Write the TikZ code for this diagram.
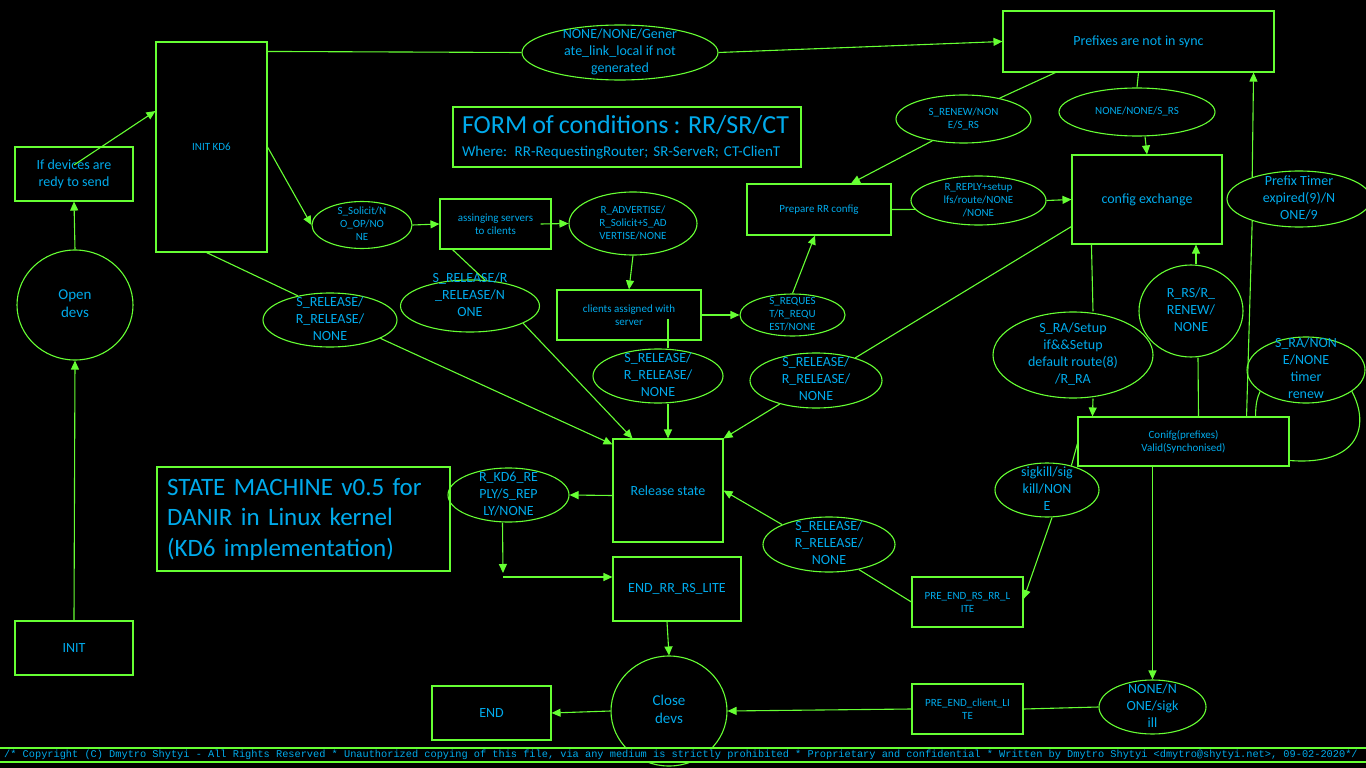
\documentclass[tikz,border=0pt]{standalone}
\usepackage{fontspec}
\setmainfont{Carlito}
\newfontfamily\barfont{Liberation Mono}
\usetikzlibrary{arrows.meta,shapes.geometric}

\definecolor{kdgreen}{RGB}{102,255,51}
\definecolor{kdblue}{RGB}{0,170,235}

% text of a condition, kept out of the ellipse size
\newcommand{\elltext}[2][0pt]{\smash{\makebox[0pt]{\raisebox{\dimexpr #1-0.25em\relax}{\begin{tabular}{@{}c@{}}#2\end{tabular}}}}}

\begin{document}
\begin{tikzpicture}[
  x=1pt, y=-1pt,
  >={Triangle[length=9pt,width=8pt]},
  st/.style={rectangle, draw=kdgreen, line width=1.1pt, text=kdblue,
    align=center, inner sep=2pt},
  cond/.style={ellipse, draw=kdgreen, line width=1.1pt, text=kdblue,
    inner sep=0pt},
  wh/.style 2 args={minimum width=#1pt, minimum height=#2pt},
  fa/.style={font=\fontsize{11}{13}\selectfont},
  fb/.style={font=\fontsize{14}{17}\selectfont},
  fc/.style={font=\fontsize{15}{18}\selectfont},
  tr/.style={draw=kdgreen, line width=1.1pt},
  tra/.style={->, draw=kdgreen, line width=1.1pt}
]
  \useasboundingbox[fill=black] (0,0) rectangle (1366,768);

  % states
  \node[st, fb, wh={118}{54}] (init) at (74,648) {INIT};
  \node[cond, fc, wh={116}{110}] (opendevs) at (75,305) {\elltext{Open\\devs}};
  \node[st, fb, wh={118}{54}] (ifdev) at (74,174) {If devices are\\redy to send};
  \node[st, fa, wh={111}{210}] (initkd6) at (211.5,147) {INIT KD6};
  \node[st, fa, wh={111}{50}] (assign) at (495.5,224) {assinging servers\\to cilents};
  \node[st, fa, wh={144}{50}] (clients) at (629,315) {clients assigned with\\server};
  \node[st, fa, wh={144}{51}] (prep) at (819,209.5) {Prepare RR config};
  \node[st, fb, wh={271}{61}] (prefixes) at (1138.5,41.5) {Prefixes are not in sync};
  \node[st, fb, wh={150}{89}] (cfgx) at (1147,199.5) {config exchange};
  \node[st, fa, wh={211}{49}] (conifg) at (1183.5,441.5) {Conifg(prefixes)\\Valid(Synchonised)};
  \node[st, fa, wh={111}{50}] (preendrs) at (967.5,602) {PRE\_END\_RS\_RR\_L\\ITE};
  \node[st, fa, wh={111}{50}] (preendcl) at (967.5,709) {PRE\_END\_client\_LI\\TE};
  \node[cond, fc, wh={116}{110}] (closedevs) at (669,711) {\elltext{Close\\devs}};
  \node[st, fb, wh={119}{54}] (endn) at (491.5,713) {END};
  \node[st, fb, wh={128}{64}] (endlite) at (677,589) {END\_RR\_RS\_LITE};
  \node[st, fb, wh={110}{103}] (release) at (668,490.5) {Release state};

  % conditions
  \node[cond, fa, wh={100}{47}] (solicit) at (362,225) {\elltext{S\_Solicit/N\\O\_OP/NO\\NE}};
  \node[cond, fa, wh={128}{63}] (radv) at (633,223.5) {\elltext{R\_ADVERTISE/\\R\_Solicit+S\_AD\\VERTISE/NONE}};
  \node[cond, fa, wh={105}{42}] (sreq) at (792.5,315) {\elltext{S\_REQUES\\T/R\_REQU\\EST/NONE}};
  \node[cond, fa, wh={135}{48}] (renew) at (963.5,119) {\elltext{S\_RENEW/NON\\E/S\_RS}};
  \node[cond, fa, wh={156}{48}] (nnsrs) at (1137,112) {\elltext{NONE/NONE/S\_RS}};
  \node[cond, fa, wh={135}{49}] (reply) at (978.5,200.5) {\elltext{R\_REPLY+setup\\lfs/route/NONE\\/NONE}};
  \node[cond, fb, wh={144}{56}] (timer) at (1299,199) {\elltext{Prefix Timer\\expired(9)/N\\ONE/9}};
  \node[cond, fb, wh={104}{92}] (rrs) at (1191,311) {\elltext{R\_RS/R\_\\RENEW/\\NONE}};
  \node[cond, fb, wh={160}{86}] (sra) at (1073,355) {\elltext{S\_RA/Setup\\if\&\&Setup\\default route(8)\\/R\_RA}};
  \node[cond, fb, wh={118}{66}] (sratimer) at (1306,370) {\elltext{S\_RA/NON\\E/NONE\\timer\\renew}};
  \node[cond, fb, wh={104}{54}] (sigkill) at (1047,490) {\elltext{sigkill/sig\\kill/NON\\E}};
  \node[cond, fb, wh={107}{54}] (nnsig) at (1152.5,707) {\elltext{NONE/N\\ONE/sigk\\ill}};
  \node[cond, fb, wh={121}{54}] (kd6reply) at (508.5,495) {\elltext{R\_KD6\_RE\\PLY/S\_REP\\LY/NONE}};
  \node[cond, fb, wh={134}{54}] (rela) at (330,320) {\elltext{S\_RELEASE/\\R\_RELEASE/\\NONE}};
  \node[cond, fb, wh={139}{52}] (relb) at (470,306) {\elltext[10pt]{S\_RELEASE/R\\\_RELEASE/N\\ONE}};
  \node[cond, fb, wh={130}{54}] (relc) at (658,376) {\elltext{S\_RELEASE/\\R\_RELEASE/\\NONE}};
  \node[cond, fb, wh={132}{55}] (reld) at (816,380.5) {\elltext{S\_RELEASE/\\R\_RELEASE/\\NONE}};
  \node[cond, fb, wh={132}{55}] (rele) at (829,544.5) {\elltext{S\_RELEASE/\\R\_RELEASE/\\NONE}};
  \node[cond, fb, wh={196}{55}] (genll) at (620,52.5) {\elltext{NONE/NONE/Gener\\ate\_link\_local if not\\generated}};

  % notes
  \node[st, text width=330pt, inner xsep=9pt, minimum height=60pt, align=left,
    font=\fontsize{15}{23}\selectfont] (form) at (627,137)
    {{\fontsize{26}{28}\selectfont FORM of conditions : RR/SR/CT}\\
     Where: RR-RequestingRouter; SR-ServeR; CT-ClienT};
  \node[st, text width=273pt, inner xsep=10pt, minimum height=104pt, align=left,
    font=\fontsize{25}{30.5}\selectfont] (title) at (303.5,519)
    {STATE MACHINE v0.5 for\\DANIR in Linux kernel\\(KD6 implementation)};

  % start up
  \draw[tra] (init.north) -- (opendevs.south);
  \draw[tra] (opendevs.north) -- (ifdev.south);
  \draw[tra] ([yshift=9pt]ifdev.center) -- ([yshift=36pt]initkd6.west);
  \draw[tra] (initkd6.east) -- (solicit.west);
  \draw[tra] (solicit.east) -- (assign.west);
  \draw[tra] ([xshift=-11pt]assign.east) -- (radv.west);
  \draw[tra] (radv.south) -- (clients.north);
  \draw[tra] (clients.east) -- (sreq.west);
  \draw[tra] (sreq.north) -- ([xshift=-4pt]prep.south);
  \draw[tr] (prep.east) -- (reply.188);
  \draw[tra] (reply.east) -- (cfgx.west);
  \draw[tr] ([yshift=-10pt]initkd6.north east) -- (genll.west);
  \draw[tra] (genll.east) -- (prefixes.west);

  % prefixes
  \draw[tr] ([xshift=53pt]prefixes.south west) -- (renew.30);
  \draw[tra] (renew.215) -- ([xshift=32pt]prep.north);
  \draw[tr] (prefixes.south) -- (nnsrs.north);
  \draw[tra] ([xshift=8pt]nnsrs.south) -- (cfgx.north);
  \draw[tr] ([xshift=20pt]cfgx.south west) -- ([xshift=20pt]sra.north);
  \draw[tra] ([xshift=20pt]sra.south) -- ([xshift=15pt]conifg.north west);
  \draw[tr] ([xshift=15pt]conifg.north) -- ([xshift=7pt]rrs.south);
  \draw[tra] ([xshift=5pt]rrs.north) -- ([xshift=49pt]cfgx.south);
  \draw[tr] ([xshift=-43pt]conifg.north east) -- (timer.205);
  \draw[tra] (timer.155) -- ([xshift=-21pt]prefixes.south east);
  \draw[tr] ([xshift=-34pt]conifg.north east) .. controls +(0,-12) and +(-3,6) .. (sratimer.205);
  \draw[tr] (sratimer.335) .. controls (1370,425) and (1360,466) .. ([yshift=-19pt]conifg.east);

  % release
  \draw[tr] ([yshift=-27pt]cfgx.west) -- (reld.30);
  \draw[tra] (reld.213) -- (release.north east);
  \draw[tr] ([xshift=-5pt]initkd6.south) -- (rela.143);
  \draw[tra] (rela.340) -- ([yshift=-6pt]release.north west);
  \draw[tr] ([xshift=13pt]assign.south west) -- (relb.60);
  \draw[tra] (relb.342) -- ([xshift=20pt]release.north west);
  \draw[tr] ([xshift=39pt,yshift=-4pt]clients.center) -- ([xshift=10pt]relc.north);
  \draw[tra] ([xshift=10pt]relc.south) -- (release.north);
  \draw[tr] (preendrs.west) -- (rele.320);
  \draw[tra] (rele.157) -- (release.east);

  % shut down
  \draw[tra] ([yshift=-5pt]release.west) -- (kd6reply.east);
  \coordinate (kdturn) at (503,573);
  \draw[tra] ([xshift=-6pt]kd6reply.south) -- (kdturn);
  \draw[tra] ([yshift=-4pt]kdturn) -- ([yshift=12pt]endlite.west);
  \draw[tra] ([xshift=-10pt]endlite.south) -- (closedevs.north);
  \draw[tra] (closedevs.west) -- (endn.east);
  \draw[tra] (preendcl.west) -- (closedevs.east);
  \draw[tr] (nnsig.west) -- (preendcl.east);
  \draw[tra] ([xshift=-31pt]conifg.south) -- (nnsig.north);
  \draw[tr] ([yshift=-2pt]conifg.west) -- (sigkill.45);
  \draw[tra] ([xshift=5pt]sigkill.south) -- ([yshift=3pt]preendrs.east);

  \node[fill=black, draw=kdgreen, line width=1.1pt, text=kdblue, inner sep=0pt,
    wh={1400}{14}, font=\barfont\fontsize{10.3}{12}\selectfont] (copyright) at (681,755)
    {/* Copyright (C) Dmytro Shytyi - All Rights Reserved * Unauthorized copying of this file, via any medium is strictly prohibited * Proprietary and confidential * Written by Dmytro Shytyi <dmytro@shytyi.net>, 09-02-2020*/};
\end{tikzpicture}
\end{document}
